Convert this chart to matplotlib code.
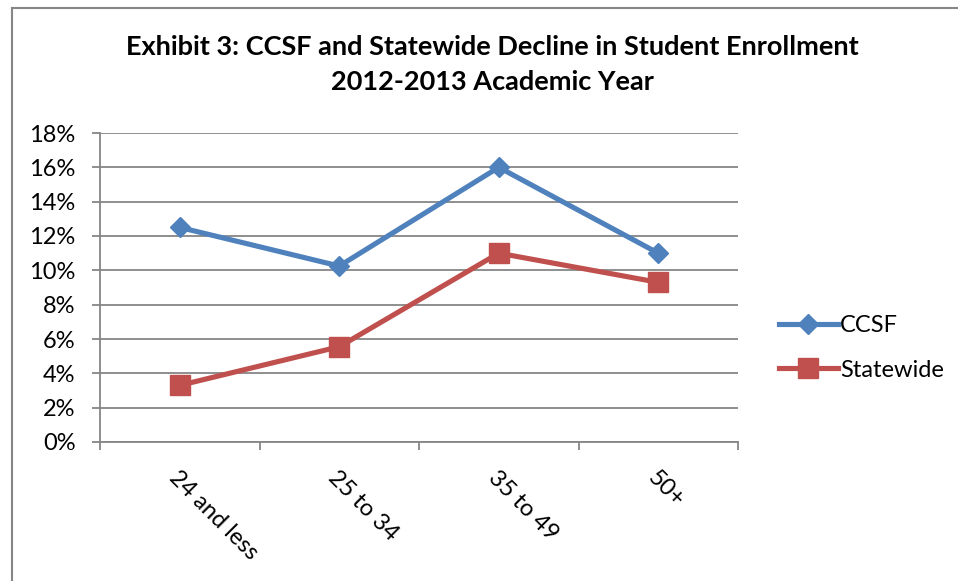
import matplotlib.pyplot as plt
from matplotlib.lines import Line2D
from matplotlib.ticker import FuncFormatter

plt.rcParams['font.family'] = ['Lato', 'DejaVu Sans']

ages = ['24 and less', '25 to 34', '35 to 49', '50+']
ccsf = [12.5, 10.25, 16.0, 11.0]
statewide = [3.3, 5.55, 11.0, 9.3]

blue = '#4F81BD'
red = '#C0504D'
grey = '#868686'

fig = plt.figure(figsize=(9.58, 5.81), dpi=100)
ax = fig.add_axes([100/958, 1-442/581, 638/958, 309/581])

x = list(range(len(ages)))
ax.plot(x, ccsf, color=blue, lw=3.7, marker='D', ms=10.5, label='CCSF', zorder=3)
ax.plot(x, statewide, color=red, lw=3.7, marker='s', ms=14, label='Statewide', zorder=3)

ax.set_xlim(-0.5, len(ages)-0.5)
ax.set_ylim(0, 18)
ax.set_yticks(range(0, 19, 2))
ax.yaxis.set_major_formatter(FuncFormatter(lambda v, p: f'{v:.0f}%'))
ax.grid(axis='y', color=grey, lw=1.3)
ax.set_axisbelow(True)

ax.set_xticks(x)
ax.set_xticklabels(ages, rotation=-45, ha='left', rotation_mode='anchor', fontsize=17)
ax.tick_params(axis='x', length=0, pad=18)
ax.set_xticks([i-0.5 for i in range(len(ages)+1)], minor=True)
ax.tick_params(axis='x', which='minor', length=5.5, color=grey, width=1.3)
ax.tick_params(axis='y', length=5.5, color=grey, width=1.3, labelsize=17, pad=12)

for s in ['top', 'right']:
    ax.spines[s].set_visible(False)
for s in ['left', 'bottom']:
    ax.spines[s].set_color(grey)
    ax.spines[s].set_linewidth(1.3)

fig.suptitle('Exhibit 3: CCSF and Statewide Decline in Student Enrollment\n2012-2013 Academic Year',
             x=492/958, y=1-35/581, fontsize=19.5, fontweight='bold', linespacing=1.55)

ax.legend(loc='center left', bbox_to_anchor=(1.045, 0.305), frameon=False, fontsize=17,
          handlelength=2.5, labelspacing=1.0, handletextpad=0.1, borderpad=0)

fig.add_artist(Line2D([12/958, 12/958], [0, 1-8/581], color=grey, lw=1.5))
fig.add_artist(Line2D([12/958, 1], [1-8/581, 1-8/581], color=grey, lw=1.5))

fig.savefig('out.png', dpi=100)
